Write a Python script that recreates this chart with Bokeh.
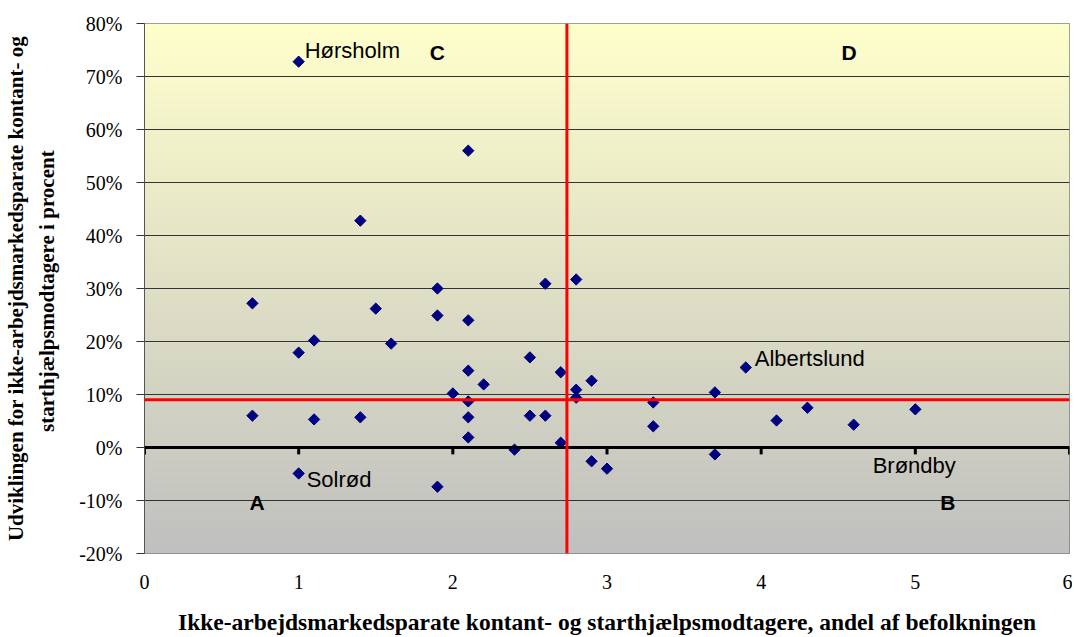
import numpy as np
from bokeh.plotting import figure
from bokeh.models import Span, NumeralTickFormatter, FixedTicker, ColumnDataSource, LabelSet
from bokeh.embed import file_html
from bokeh.resources import INLINE
from bokeh.core.properties import value

# ---- data ----
share = [1.0, 2.1, 1.4, 2.8, 2.6, 0.7, 1.9, 1.5, 1.9, 2.1, 1.1, 1.0, 1.6, 2.5, 2.1,
         3.9, 2.7, 2.2, 2.9, 2.8, 2.0, 3.7, 2.1, 2.8, 3.3, 4.3, 5.0, 0.7, 1.4, 1.1,
         2.1, 2.5, 2.6, 4.1, 3.3, 4.6, 2.1, 2.7, 2.4, 2.9, 3.0, 3.7, 1.0, 1.9]
growth = [0.728, 0.560, 0.428, 0.317, 0.309, 0.272, 0.300, 0.262, 0.249, 0.240, 0.202,
          0.179, 0.196, 0.170, 0.145, 0.151, 0.142, 0.119, 0.126, 0.109, 0.102, 0.104,
          0.087, 0.094, 0.085, 0.075, 0.072, 0.060, 0.057, 0.053, 0.057, 0.060, 0.060,
          0.051, 0.040, 0.043, 0.019, 0.009, -0.004, -0.026, -0.040, -0.013, -0.049, -0.074]

label_names = ["Hørsholm", "Solrød", "Albertslund", "Brøndby"]
label_x = [1.0, 1.0, 3.9, 4.6]
label_y = [0.728, -0.049, 0.151, 0.043]
label_dx = [6, 8, 9, 19]
label_dy = [11, -6, 9, -41]

quadrants = ["C", "D", "A", "B"]
quad_x = [1.9, 4.57, 0.73, 5.21]
quad_y = [0.745, 0.745, -0.104, -0.104]

avg_share = 2.74
avg_growth = 0.09

x_ticks = [0, 1, 2, 3, 4, 5, 6]
y_ticks = [-0.2, -0.1, 0.0, 0.1, 0.2, 0.3, 0.4, 0.5, 0.6, 0.7, 0.8]

X_MIN, X_MAX = 0, 6
Y_MIN, Y_MAX = -0.2, 0.8

p = figure(width=1072, height=637, x_range=(X_MIN, X_MAX), y_range=(Y_MIN, Y_MAX),
           output_backend="svg", toolbar_location=None,
           min_border_left=144, min_border_right=3, min_border_top=23, min_border_bottom=84)

p.background_fill_color = "#C0C0C0"
p.border_fill_color = "white"
p.outline_line_color = "#808080"
p.outline_line_width = 1

# gradient background (light yellow top -> gray bottom)
n = 200
top = np.array([255, 255, 204])
bot = np.array([192, 192, 192])
t = np.linspace(0, 1, n)[:, None]  # row 0 = bottom
cols = (bot * (1 - t) + top * t).astype(np.uint8)
img = np.empty((n, 1), dtype=np.uint32)
view = img.view(dtype=np.uint8).reshape((n, 1, 4))
view[:, 0, 0] = cols[:, 0]
view[:, 0, 1] = cols[:, 1]
view[:, 0, 2] = cols[:, 2]
view[:, 0, 3] = 255
bg = p.image_rgba(image=[img], x=X_MIN, y=Y_MIN, dw=X_MAX - X_MIN, dh=Y_MAX - Y_MIN)
bg.level = "image"

# grid
p.xgrid.visible = False
p.ygrid.ticker = FixedTicker(ticks=y_ticks)
p.ygrid.grid_line_color = "#333333"
p.ygrid.grid_line_width = 1

# axes
p.yaxis.ticker = FixedTicker(ticks=y_ticks)
p.yaxis.formatter = NumeralTickFormatter(format="0%")
p.yaxis.major_label_text_font = "Liberation Serif"
p.yaxis.major_label_text_font_size = "20px"
p.yaxis.major_label_text_color = "black"
p.yaxis.axis_line_color = "#555555"
p.yaxis.major_tick_line_color = "#333333"
p.yaxis.major_tick_out = 8
p.yaxis.major_tick_in = 0
p.yaxis.minor_tick_line_color = None
p.yaxis.major_label_standoff = 14
p.yaxis.axis_label = "Udviklingen for ikke-arbejdsmarkedsparate kontant- og\nstarthjælpsmodtagere i  procent"
p.yaxis.axis_label_text_font = "Liberation Serif"
p.yaxis.axis_label_text_font_style = "bold"
p.yaxis.axis_label_text_font_size = "21px"
p.yaxis.axis_label_text_color = "black"
p.yaxis.axis_label_text_line_height = 1.3
p.yaxis.axis_label_standoff = 17

p.xaxis.ticker = FixedTicker(ticks=x_ticks)
p.xaxis.major_label_text_font = "Liberation Serif"
p.xaxis.major_label_text_font_size = "20px"
p.xaxis.major_label_text_color = "black"
p.xaxis.axis_line_color = None
p.xaxis.major_tick_line_color = None
p.xaxis.minor_tick_line_color = None
p.xaxis.major_tick_out = 0
p.xaxis.major_label_standoff = 21
p.xaxis.axis_label = "Ikke-arbejdsmarkedsparate kontant- og starthjælpsmodtagere, andel af befolkningen"
p.xaxis.axis_label_text_font = "Liberation Serif"
p.xaxis.axis_label_text_font_style = "bold"
p.xaxis.axis_label_text_font_size = "23.5px"
p.xaxis.axis_label_text_color = "black"
p.xaxis.axis_label_standoff = 17

# zero line with tick marks
p.add_layout(Span(location=0, dimension="width", line_color="black", line_width=3))
p.segment(x0=x_ticks, y0=[0] * len(x_ticks), x1=x_ticks, y1=[-0.013] * len(x_ticks),
          line_color="black", line_width=3)

# reference (average) lines
p.add_layout(Span(location=avg_growth, dimension="width", line_color="#FF0000", line_width=3))
p.add_layout(Span(location=avg_share, dimension="height", line_color="#FF0000", line_width=3))

# points
src = ColumnDataSource(dict(x=share, y=growth))
p.scatter("x", "y", source=src, marker="square", angle=np.pi / 4, size=8,
          fill_color="#000080", line_color="#000080")

# point labels
lsrc = ColumnDataSource(dict(x=label_x, y=label_y, name=label_names, dx=label_dx, dy=label_dy))
p.add_layout(LabelSet(x="x", y="y", text="name", source=lsrc, x_offset="dx", y_offset="dy",
                      text_font=value("Liberation Sans"), text_font_size="22px",
                      text_color="black", text_baseline="middle", text_align="left"))

# quadrant letters
qsrc = ColumnDataSource(dict(x=quad_x, y=quad_y, q=quadrants))
p.add_layout(LabelSet(x="x", y="y", text="q", source=qsrc,
                      text_font=value("Liberation Sans"), text_font_size="21px",
                      text_font_style="bold", text_color="black",
                      text_baseline="middle", text_align="center"))

open("out.html", "w").write(file_html(p, INLINE))
